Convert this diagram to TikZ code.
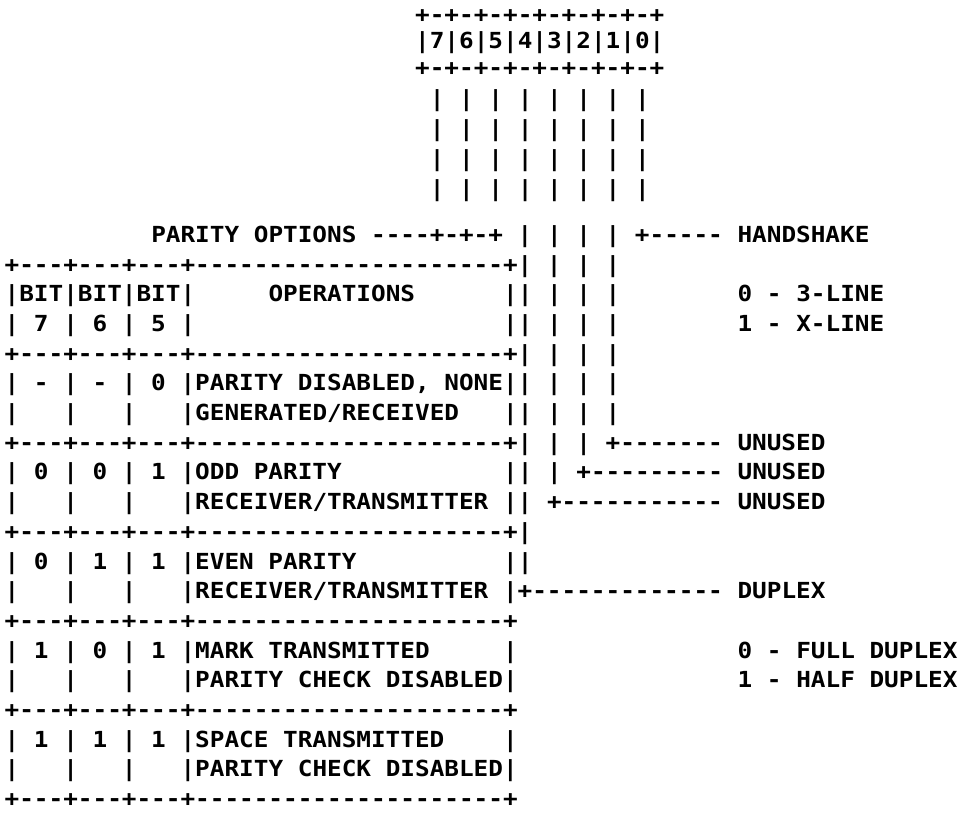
\documentclass[tikz,border=0pt]{standalone}
\usepackage{fontspec}
\setmonofont{DejaVu Sans Mono}[FakeStretch=1.1]
\frenchspacing

\tikzset{ascii/.style={anchor=base west, inner sep=0pt,
    font=\ttfamily\bfseries\fontsize{16.6pt}{20pt}\selectfont}}
% one run of text at column #1, line #2
\newcommand{\asc}[3]{\node[ascii] (r#2-c#1) at ({4.4+14.66*#1},{34.4+29.7*#2}) {#3};}

\begin{document}
\begin{tikzpicture}[x=0.75pt,y=-0.75pt]
  \useasboundingbox (0,0) rectangle (962,833);

  % register
  \node[ascii] (reg-top) at ({4.4+14.66*28},22.4) {+-+-+-+-+-+-+-+-+};
  \node[ascii] (reg-bits) at ({4.4+14.66*28},48) {|7|6|5|4|3|2|1|0|};
  \node[ascii] (reg-bot) at ({4.4+14.66*28},75.4) {+-+-+-+-+-+-+-+-+};
  \foreach \yy [count=\k] in {106,136,166,196}
    {\node[ascii] (bars\k) at ({4.4+14.66*29},\yy) {| | | | | | | |};}

  \asc{10}{7}{PARITY OPTIONS ----+-+-+ | | | | +----- HANDSHAKE}

  % table
  \asc{0}{8}{+---+---+---+---------------------+| | | |}
  \asc{0}{9}{|BIT|BIT|BIT|}
  \asc{18}{9}{OPERATIONS}
  \asc{0}{10}{| 7 | 6 | 5 |}
  \foreach \rr in {9,10,13}
    {\asc{34}{\rr}{|| | | |}}
  \asc{50}{9}{0 - 3-LINE}
  \asc{50}{10}{1 - X-LINE}

  \asc{0}{11}{+---+---+---+---------------------+| | | |}
  \asc{0}{12}{| - | - | 0 |PARITY DISABLED, NONE|| | | |}
  \asc{12}{13}{|GENERATED/RECEIVED}

  \asc{0}{14}{+---+---+---+---------------------+| | | +------- UNUSED}
  \asc{0}{15}{| 0 | 0 | 1 |ODD PARITY}
  \asc{34}{15}{|| | +--------- UNUSED}
  \asc{12}{16}{|RECEIVER/TRANSMITTER || +----------- UNUSED}

  \asc{0}{17}{+---+---+---+---------------------+|}
  \asc{0}{18}{| 0 | 1 | 1 |EVEN PARITY}
  \asc{34}{18}{||}
  \asc{12}{19}{|RECEIVER/TRANSMITTER |+------------- DUPLEX}

  \asc{0}{21}{| 1 | 0 | 1 |MARK TRANSMITTED}
  \asc{34}{21}{|}
  \asc{50}{21}{0 - FULL DUPLEX}
  \asc{12}{22}{|PARITY CHECK DISABLED|}
  \asc{50}{22}{1 - HALF DUPLEX}

  \asc{0}{24}{| 1 | 1 | 1 |SPACE TRANSMITTED}
  \asc{34}{24}{|}
  \asc{12}{25}{|PARITY CHECK DISABLED|}

  \foreach \rr in {20,23,26}
    {\asc{0}{\rr}{+---+---+---+---------------------+}}
  % empty cells
  \foreach \rr in {13,16,19,22,25}
    \foreach \cc in {0,4,8}
      {\asc{\cc}{\rr}{|}}
\end{tikzpicture}
\end{document}
